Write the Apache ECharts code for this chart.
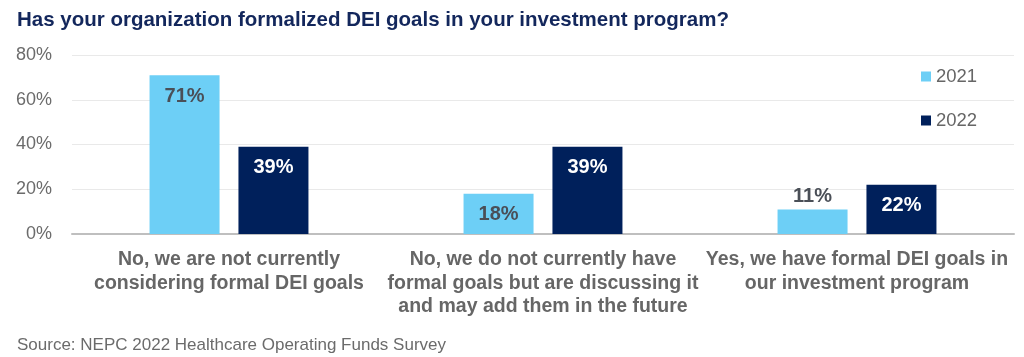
<!DOCTYPE html>
<html>
<head>
<meta charset="utf-8">
<script src="https://cdn.jsdelivr.net/npm/echarts@6/dist/echarts.min.js"></script>
<style>
html,body{margin:0;padding:0;background:#fff;}
#chart{width:1024px;height:357px;}
</style>
</head>
<body>
<div id="chart"></div>
<script>
const categories = [
  "No, we are not currently\nconsidering formal DEI goals",
  "No, we do not currently have\nformal goals but are discussing it\nand may add them in the future",
  "Yes, we have formal DEI goals in\nour investment program"
];
const values2021 = [71, 18, 11];
const values2022 = [39, 39, 22];
const seriesNames = ["2021", "2022"];
const yTicks = [0, 20, 40, 60, 80];
const titleText = "Has your organization formalized DEI goals in your investment program?";
const sourceText = "Source: NEPC 2022 Healthcare Operating Funds Survey";

const FONT = "'Liberation Sans', Arial, sans-serif";
const c2021 = "#6DCFF6";
const c2022 = "#00205B";

function makeData(vals) {
  return vals.map(v => {
    if (v < 15) {
      return { value: v, label: { position: 'top', distance: 3 } };
    }
    return v;
  });
}

const chart = echarts.init(document.getElementById('chart'), null, {renderer: 'canvas'});
chart.setOption({
  animation: false,
  backgroundColor: '#fff',
  title: [
    { text: titleText, left: 12, top: 5,
      textStyle: { fontFamily: FONT, fontSize: 20.5, fontWeight: 'bold', color: '#13275C' } },
    { text: sourceText, left: 12, top: 332,
      textStyle: { fontFamily: FONT, fontSize: 17, fontWeight: 'normal', color: '#6b6b6b' } }
  ],
  legend: {
    orient: 'vertical', left: 921, top: 67, padding: 0,
    itemWidth: 10, itemHeight: 10, itemGap: 25,
    icon: 'rect',
    textStyle: { fontFamily: FONT, fontSize: 18.5, color: '#666' },
    data: seriesNames
  },
  grid: { left: 72, right: 10, top: 55, bottom: 123, containLabel: false },
  xAxis: {
    type: 'category', data: categories,
    axisLine: { lineStyle: { color: '#bfbfbf', width: 2 } },
    axisTick: { show: false },
    axisLabel: { interval: 0, margin: 14, lineHeight: 23.5,
      fontFamily: FONT, fontSize: 19.5, fontWeight: 'bold', color: '#666' }
  },
  yAxis: {
    type: 'value', min: yTicks[0], max: yTicks[yTicks.length - 1], interval: 20,
    axisLine: { show: false }, axisTick: { show: false },
    splitLine: { lineStyle: { color: '#e9e9e9', width: 1 } },
    axisLabel: { formatter: '{value}%', margin: 20,
      fontFamily: FONT, fontSize: 18, color: '#6b6b6b' }
  },
  series: [
    { name: seriesNames[0], type: 'bar', data: makeData(values2021),
      barWidth: 70, barGap: '27%', itemStyle: { color: c2021 },
      label: { show: true, position: 'insideTop', distance: 11, formatter: '{c}%',
        fontFamily: FONT, fontSize: 20, fontWeight: 'bold', color: '#4a4f57' } },
    { name: seriesNames[1], type: 'bar', data: makeData(values2022),
      barWidth: 70, barGap: '27%', itemStyle: { color: c2022 },
      label: { show: true, position: 'insideTop', distance: 11, formatter: '{c}%',
        fontFamily: FONT, fontSize: 20, fontWeight: 'bold', color: '#ffffff' } }
  ]
});
</script>
</body>
</html>
